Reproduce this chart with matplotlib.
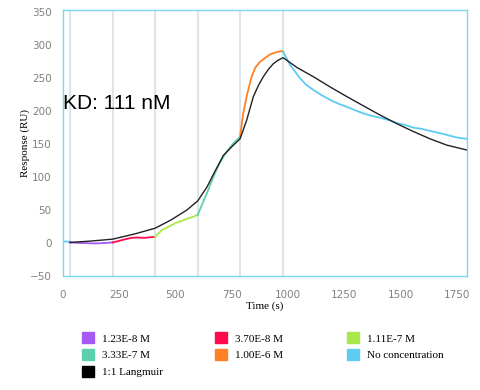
import matplotlib.pyplot as plt
from matplotlib.patches import Patch

# sensorgram segments (time s, response RU)
t_base = [0, 15, 31]
r_base = [2.5, 2.5, 2]
t_c1 = [31, 60, 100, 140, 180, 221]
r_c1 = [1, 0.5, 0, -0.5, 0, 1]
t_c2 = [221, 245, 261, 285, 305, 330, 364, 390, 409]
r_c2 = [1, 3, 4.5, 6.5, 8, 8.5, 8, 9, 9.5]
t_c3 = [409, 420, 439, 470, 498, 530, 557, 580, 599]
r_c3 = [9.5, 13, 19.5, 25, 30, 34, 37.5, 40, 43]
t_c4 = [599, 620, 645, 668, 690, 713, 735, 757, 787]
r_c4 = [43, 60, 80, 100, 117, 131, 142, 151, 161]
t_c5 = [787, 800, 816, 838, 855, 876, 900, 920, 945, 972, 978]
r_c5 = [161, 195, 222, 252, 266, 275, 281, 286, 289, 291, 290]
t_diss = [978, 1009, 1053, 1080, 1113, 1150, 1187, 1225, 1261, 1300, 1335, 1370,
          1409, 1450, 1483, 1520, 1557, 1595, 1631, 1670, 1705, 1750, 1795]
r_diss = [290, 270, 250, 240, 232, 224, 217, 211, 206.5, 201, 196.5, 193,
          190, 186, 182, 179, 175, 173, 170, 167, 164, 160, 158]

# 1:1 Langmuir fit
t_fit = [31, 120, 221, 320, 409, 480, 550, 599, 640, 668, 713, 750, 787, 816, 846,
         870, 890, 912, 935, 955, 978, 1040, 1113, 1190, 1261, 1340, 1409, 1483,
         1557, 1631, 1705, 1795]
r_fit = [1, 3, 6, 14, 22.5, 35, 50, 64, 85, 104, 133, 146, 158, 186, 222,
         240, 252, 263, 272, 277, 281, 266, 252, 236, 222, 207, 194, 181,
         169, 158, 148.5, 141]

injections = [31, 221, 409, 599, 787, 978]

labels = ['1.23E-8 M', '3.70E-8 M', '1.11E-7 M', '3.33E-7 M', '1.00E-6 M',
          'No concentration', '1:1 Langmuir']
colors = ['#a659f5', '#ff0a4c', '#a8e84c', '#5ccfae', '#ff8126', '#5dcbf2', '#000000']

fig = plt.figure(figsize=(4.8, 3.9), dpi=100)
ax = fig.add_axes([0.131, 0.292, 0.842, 0.682])

for x in injections:
    ax.axvline(x, color='#dfe4ea', lw=1.5, zorder=0)

ax.plot(t_base, r_base, color=colors[5], lw=1.3)
segs = [(t_c1, r_c1), (t_c2, r_c2), (t_c3, r_c3), (t_c4, r_c4), (t_c5, r_c5)]
for (t, r), c in zip(segs, colors[:5]):
    ax.plot(t, r, color=c, lw=1.3)
ax.plot(t_diss, r_diss, color=colors[5], lw=1.3)
ax.plot(t_fit, r_fit, color='#222222', lw=1.0)

ax.set_xlim(0, 1795)
ax.set_ylim(-50, 353)
ax.set_xticks([0, 250, 500, 750, 1000, 1250, 1500, 1750])
ax.set_yticks(range(-50, 351, 50))
ax.tick_params(length=0, labelsize=7.5, labelcolor='#808080')
ax.tick_params(axis='y', pad=8)
ax.tick_params(axis='x', pad=10)
for s in ax.spines.values():
    s.set_color('#7fd4f2')
    s.set_linewidth(1.0)

ax.set_xlabel('Time (s)', family='Liberation Serif', fontsize=8, labelpad=1)
ax.set_ylabel('Response (RU)', family='Liberation Serif', fontsize=8, labelpad=0)

ax.text(0, 212, 'KD: 111 nM', fontsize=15, family='Liberation Sans',
        ha='left', va='center')

# legend: one block per column so the columns sit where they do in the original
handles = [Patch(facecolor=c, edgecolor=c) for c in colors]
columns = [[0, 3, 6], [1, 4], [2, 5]]
col_x = [0.170, 0.447, 0.722]
for idx, x0 in zip(columns, col_x):
    fig.legend([handles[i] for i in idx], [labels[i] for i in idx],
               loc='upper left', bbox_to_anchor=(x0, 0.148),
               frameon=False, prop={'family': 'Liberation Serif', 'size': 8},
               handlelength=1.15, handleheight=1.15, handletextpad=0.65,
               labelspacing=0.5, borderpad=0, borderaxespad=0)

fig.savefig('out.png', dpi=100)
